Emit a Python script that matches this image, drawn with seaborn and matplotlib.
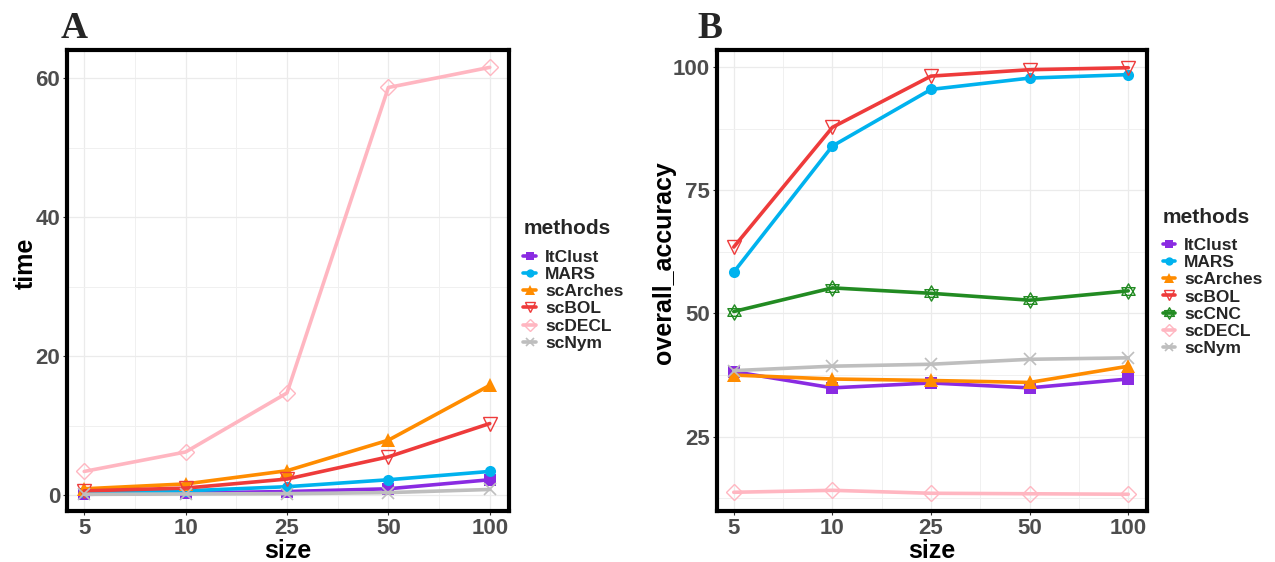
import numpy as np
import pandas as pd
import matplotlib
matplotlib.use("Agg")
import matplotlib.pyplot as plt
import seaborn as sns
from matplotlib.path import Path
from matplotlib.lines import Line2D
from matplotlib.ticker import FixedLocator

# ---------------- data ----------------
sizes = ["5", "10", "25", "50", "100"]

time_methods = ["ItClust", "MARS", "scArches", "scBOL", "scDECL", "scNym"]
time_ItClust = [0.1, 0.3, 0.5, 0.9, 2.2]
time_MARS = [0.4, 0.6, 1.2, 2.2, 3.4]
time_scArches = [0.9, 1.6, 3.5, 7.9, 15.8]
time_scBOL = [0.6, 1.0, 2.3, 5.5, 10.3]
time_scDECL = [3.4, 6.2, 14.7, 58.7, 61.6]
time_scNym = [0.1, 0.15, 0.2, 0.35, 0.8]

acc_methods = ["ItClust", "MARS", "scArches", "scBOL", "scCNC", "scDECL", "scNym"]
acc_ItClust = [38.2, 34.9, 35.9, 34.9, 36.7]
acc_MARS = [58.4, 84.0, 95.5, 97.8, 98.5]
acc_scArches = [37.5, 36.7, 36.4, 36.0, 39.3]
acc_scBOL = [63.5, 87.8, 98.2, 99.5, 99.9]
acc_scCNC = [50.4, 55.2, 54.1, 52.7, 54.6]
acc_scDECL = [13.7, 14.1, 13.5, 13.4, 13.3]
acc_scNym = [38.4, 39.3, 39.7, 40.7, 41.0]

time_values = {"ItClust": time_ItClust, "MARS": time_MARS, "scArches": time_scArches,
               "scBOL": time_scBOL, "scDECL": time_scDECL, "scNym": time_scNym}
acc_values = {"ItClust": acc_ItClust, "MARS": acc_MARS, "scArches": acc_scArches,
              "scBOL": acc_scBOL, "scCNC": acc_scCNC, "scDECL": acc_scDECL, "scNym": acc_scNym}

def long_df(values, methods, col):
    rows = []
    for m in methods:
        for i, (s, v) in enumerate(zip(sizes, values[m])):
            rows.append({"methods": m, "size": s, "pos": i, col: v})
    return pd.DataFrame(rows)

df_time = long_df(time_values, time_methods, "time")
df_acc = long_df(acc_values, acc_methods, "overall_accuracy")

# ---------------- styles ----------------
colors = {"ItClust": "#8A2BE2", "MARS": "#00B2EE", "scArches": "#FF8C00",
          "scBOL": "#EE3B3B", "scCNC": "#228B22", "scDECL": "#FFB6C1", "scNym": "#BEBEBE"}

star = Path.make_compound_path(
    Path([(0, 1), (-0.866, -0.5), (0.866, -0.5), (0, 1)],
         [Path.MOVETO, Path.LINETO, Path.LINETO, Path.CLOSEPOLY]),
    Path([(0, -1), (-0.866, 0.5), (0.866, 0.5), (0, -1)],
         [Path.MOVETO, Path.LINETO, Path.LINETO, Path.CLOSEPOLY]))

# marker, size, filled, edge width
mstyle = {"ItClust": ("s", 8.5, True, 0.0),
          "MARS": ("o", 8.0, True, 0.0),
          "scArches": ("^", 9.5, True, 0.0),
          "scBOL": ("v", 10.0, False, 1.0),
          "scCNC": (star, 11.0, False, 1.0),
          "scDECL": ("D", 8.0, False, 1.0),
          "scNym": ("x", 8.0, False, 1.2)}

sns.set_theme(style="white")
plt.rcParams["font.family"] = ["Liberation Sans", "DejaVu Sans"]

fig = plt.figure(figsize=(12.75, 5.62), dpi=100)
W, H = 1275, 562
axA = fig.add_axes([67 / W, 1 - 511 / H, 442 / W, 461 / H])
axB = fig.add_axes([717 / W, 1 - 511 / H, 430 / W, 461 / H])


def draw(ax, df, ycol, methods, ylim, yticks, yminor, legend_anchor, ylab_x):
    handles = []
    for k, m in enumerate(methods):
        sub = df[df["methods"] == m]
        mk, ms, filled, mew = mstyle[m]
        c = colors[m]
        sns.lineplot(data=sub, x="pos", y=ycol, ax=ax, color=c, linewidth=2.6,
                     marker=mk, markersize=ms,
                     markerfacecolor=c if filled else "none",
                     markeredgecolor=c, markeredgewidth=mew,
                     legend=False, zorder=3 + k * 0.01, errorbar=None)
        handles.append(Line2D([], [], color=c, linewidth=2.6, marker=mk,
                              markersize=ms * 0.75,
                              markerfacecolor=c if filled else "none",
                              markeredgecolor=c, markeredgewidth=mew, label=m))
    ax.set_xlim(-0.17, 4.19)
    ax.set_ylim(*ylim)
    ax.xaxis.set_major_locator(FixedLocator(range(len(sizes))))
    ax.xaxis.set_minor_locator(FixedLocator([i + 0.5 for i in range(len(sizes) - 1)]))
    ax.set_xticklabels(sizes)
    ax.yaxis.set_major_locator(FixedLocator(yticks))
    ax.yaxis.set_minor_locator(FixedLocator(yminor))
    ax.grid(True, which="major", color="#EBEBEB", linewidth=0.9, zorder=0)
    ax.grid(True, which="minor", color="#F0F0F0", linewidth=0.7, zorder=0)
    ax.set_axisbelow(True)
    for s in ax.spines.values():
        s.set_visible(True)
        s.set_color("black")
        s.set_linewidth(3.0)
    ax.tick_params(axis="both", which="major", length=3, width=0.8, color="#333333",
                   labelsize=16, labelcolor="#4D4D4D", pad=2, bottom=True, left=True)
    ax.tick_params(axis="both", which="minor", length=0)
    for lab in ax.get_xticklabels() + ax.get_yticklabels():
        lab.set_fontweight("bold")
    ax.set_xlabel("size", fontsize=18, fontweight="bold", color="black", labelpad=0)
    ax.set_ylabel(ycol, fontsize=18, fontweight="bold", color="black")
    ax.yaxis.set_label_coords(ylab_x, 0.538)
    leg = ax.legend(handles=handles, title="methods", loc="center left",
                    bbox_to_anchor=legend_anchor, frameon=False,
                    prop={"size": 12.5, "weight": "bold"},
                    title_fontproperties={"size": 15, "weight": "bold"},
                    handlelength=0.7, handletextpad=0.55, labelspacing=0.12,
                    borderaxespad=0, alignment="left")
    leg._legend_box.sep = 8
    return leg


draw(axA, df_time, "time", time_methods, (-2.3, 64.1), [0, 20, 40, 60], [10, 30, 50],
     (1.017, 0.49), -0.066)
draw(axB, df_acc, "overall_accuracy", acc_methods, (9.9, 103.5), [25, 50, 75, 100],
     [12.5, 37.5, 62.5, 87.5], (1.02, 0.497), -0.095)

fig.text(61 / W, 1 - 38 / H, "A", fontsize=27, fontweight="bold",
         family=["Liberation Serif", "DejaVu Serif"], ha="left", va="baseline")
fig.text(697 / W, 1 - 38 / H, "B", fontsize=27, fontweight="bold",
         family=["Liberation Serif", "DejaVu Serif"], ha="left", va="baseline")

fig.savefig("out.png", dpi=100)
